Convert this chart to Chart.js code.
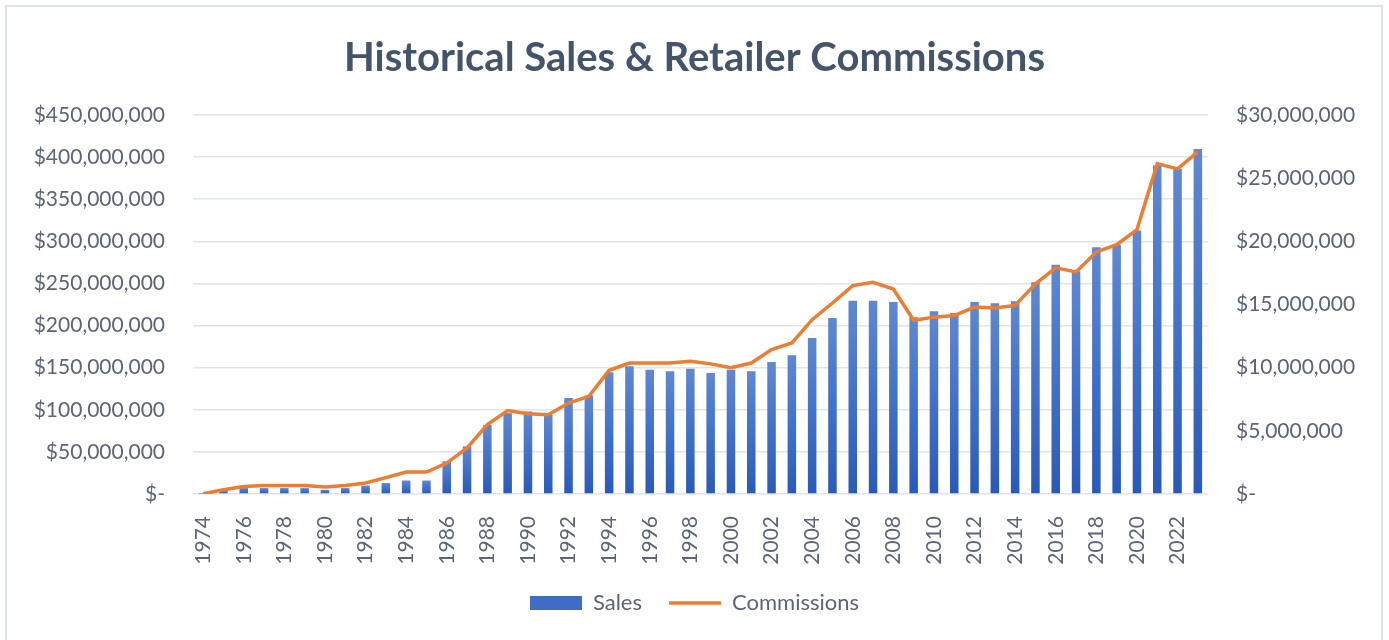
<!DOCTYPE html>
<html>
<head>
<meta charset="utf-8">
<script src="https://cdn.jsdelivr.net/npm/chart.js@4.4.1/dist/chart.umd.min.js"></script>
<style>
  html, body { margin: 0; padding: 0; background: #fff; overflow: hidden; }
  #wrap { position: relative; width: 1389px; height: 640px; }
  #frame { position: absolute; left: 5px; top: 5px; width: 1374px; height: 660px;
           border: 2px solid #dfe2e8; pointer-events: none; }
</style>
</head>
<body>
<div id="wrap">
  <canvas id="myChart" width="1389" height="640"></canvas>
  <div id="frame"></div>
</div>
<script>
// values in millions of dollars
const years = ['1974','1975','1976','1977','1978','1979','1980','1981','1982','1983',
  '1984','1985','1986','1987','1988','1989','1990','1991','1992','1993',
  '1994','1995','1996','1997','1998','1999','2000','2001','2002','2003',
  '2004','2005','2006','2007','2008','2009','2010','2011','2012','2013',
  '2014','2015','2016','2017','2018','2019','2020','2021','2022','2023'];

const sales = [0.3, 4, 7, 7, 7, 7, 5, 7, 10, 13,
  16, 16, 38.7, 56.5, 82, 96, 98, 94, 114, 117,
  144.5, 151.6, 147.6, 145.6, 148.8, 143.7, 147.6, 145.6, 156.8, 164.6,
  185.3, 209, 229.6, 229.6, 228, 210, 216.9, 215, 228, 226.4,
  229, 251.3, 272.3, 264.4, 292.9, 296, 313, 390, 386, 409.7];

const commissions = [0.02, 0.34, 0.6, 0.68, 0.68, 0.68, 0.55, 0.68, 0.87, 1.3,
  1.74, 1.74, 2.45, 3.64, 5.49, 6.6, 6.35, 6.28, 7.2, 7.73,
  9.79, 10.37, 10.37, 10.37, 10.5, 10.3, 10.0, 10.37, 11.43, 11.96,
  13.8, 15.12, 16.5, 16.75, 16.23, 13.75, 14.0, 14.12, 14.8, 14.72,
  14.93, 16.63, 17.9, 17.58, 19.16, 19.74, 20.93, 26.15, 25.73, 27.08];

const salesTicks = { min: 0, max: 450, step: 50 };
const commTicks = { min: 0, max: 30, step: 5 };

const textColor = '#5b6577';
const gridColor = '#e1e4ea';

const money = (v) => {
    if (v === 0) return '$-';
    return '$' + Math.round(v * 1000000).toLocaleString('en-US');
};

// every bar gets its own light-top / dark-bottom gradient
const barFill = (context) => {
    const chart = context.chart;
    if (!chart.chartArea || context.type !== 'data') return '#4472c4';
    const y = chart.scales.y;
    const top = y.getPixelForValue(context.raw);
    const bottom = y.getPixelForValue(0);
    if (!(bottom - top > 1)) return '#4472c4';
    const g = chart.ctx.createLinearGradient(0, top, 0, bottom);
    g.addColorStop(0, '#6088d2');
    g.addColorStop(0.5, '#4171c8');
    g.addColorStop(1, '#2a5ab7');
    return g;
};

const data = {
    labels: years,
    datasets: [
        {
            type: 'bar',
            label: 'Sales',
            data: sales,
            yAxisID: 'y',
            backgroundColor: barFill,
            borderWidth: 0,
            barPercentage: 0.42,
            categoryPercentage: 1,
            pointStyle: 'rect',
            order: 1
        },
        {
            type: 'line',
            label: 'Commissions',
            data: commissions,
            yAxisID: 'y1',
            borderColor: '#ed7d31',
            backgroundColor: '#ed7d31',
            borderWidth: 3.5,
            pointRadius: 0,
            pointStyle: 'line',
            tension: 0,
            order: 0
        }
    ]
};

const font = (size, weight) => ({ family: 'Lato', size: size, weight: weight || 'normal' });

const config = {
    data,
    options: {
        responsive: false,
        animation: false,
        layout: { padding: { left: 0, right: 0, top: 0, bottom: 16 } },
        plugins: {
            title: {
                display: true,
                text: 'Historical Sales & Retailer Commissions',
                color: '#44546a',
                font: font(40, 'bold'),
                padding: { top: 34, bottom: 33 }
            },
            legend: {
                position: 'bottom',
                labels: {
                    usePointStyle: true,
                    pointStyleWidth: 52,
                    boxHeight: 14,
                    padding: 27,
                    color: textColor,
                    font: font(22),
                    sort: (a, b) => a.datasetIndex - b.datasetIndex,
                    generateLabels(chart) {
                        const items = Chart.defaults.plugins.legend.labels.generateLabels(chart);
                        items.forEach((it) => {
                            if (it.datasetIndex === 0) {
                                it.fillStyle = '#3f6cc4';
                                it.strokeStyle = '#3f6cc4';
                                it.lineWidth = 0;
                            }
                        });
                        return items;
                    }
                }
            },
            tooltip: { enabled: false }
        },
        scales: {
            x: {
                grid: { display: false },
                border: { display: false },
                ticks: {
                    autoSkip: false,
                    minRotation: 90,
                    maxRotation: 90,
                    padding: 14,
                    color: textColor,
                    font: font(21),
                    callback: function (value, index) {
                        return index % 2 === 0 ? this.getLabelForValue(value) : '';
                    }
                },
                afterFit: (scale) => { scale.height = 71; }
            },
            y: {
                position: 'left',
                min: salesTicks.min,
                max: salesTicks.max,
                grid: { color: gridColor, lineWidth: 1.5, drawTicks: false },
                border: { display: false },
                ticks: {
                    stepSize: salesTicks.step,
                    padding: 28,
                    color: textColor,
                    font: font(21),
                    callback: money
                },
                afterFit: (scale) => { scale.width = 193; }
            },
            y1: {
                position: 'right',
                min: commTicks.min,
                max: commTicks.max,
                grid: { display: false, drawTicks: false },
                border: { display: false },
                ticks: {
                    stepSize: commTicks.step,
                    padding: 28,
                    color: textColor,
                    font: font(21),
                    callback: money
                },
                afterFit: (scale) => { scale.width = 181; }
            }
        }
    }
};

var myChart = new Chart(document.getElementById('myChart'), config);
</script>
</body>
</html>
